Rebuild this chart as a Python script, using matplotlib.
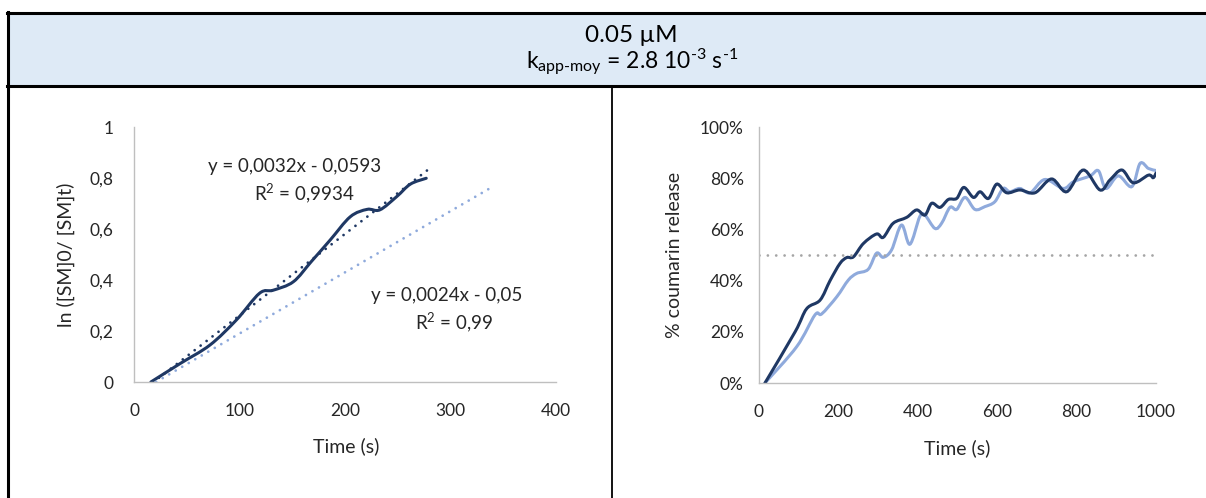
import matplotlib.pyplot as plt
from matplotlib.path import Path
from matplotlib.patches import PathPatch, Rectangle
from matplotlib.lines import Line2D
import numpy as np

plt.rcParams['font.family'] = ['Lato', 'DejaVu Sans']
plt.rcParams['mathtext.fontset'] = 'custom'
plt.rcParams['mathtext.rm'] = 'Lato'
plt.rcParams['mathtext.it'] = 'Lato:italic'

# left chart: ln([SM]0/[SM]t) vs time
ln_time = [16, 44, 72, 97, 119, 132, 151, 168, 186, 205, 221, 233, 249, 262, 277]
ln_value = [0.0, 0.073, 0.145, 0.243, 0.348, 0.36, 0.393, 0.472, 0.557, 0.648, 0.677,
            0.675, 0.727, 0.776, 0.799]
fit_dark = (0.0032, -0.0593)
fit_dark_x = [18, 278]
fit_light = (0.0024, -0.05)
fit_light_x = [21, 338]

# right chart: % coumarin release vs time
rel_time_dark = [15, 91, 120, 154, 179, 204, 221, 238, 263, 296, 313, 338, 372, 397, 418,
                 435, 456, 477, 498, 516, 540, 557, 578, 599, 624, 657, 695, 737, 775,
                 817, 859, 884, 914, 943, 981, 993, 1000]
rel_dark = [0, 20, 29, 32.4, 40, 46.7, 49, 49.3, 54.5, 58.2, 56.9, 62.4, 64.7, 67.6, 65.6,
            70.2, 68.6, 71.7, 72.1, 76.4, 72.5, 74.7, 72.1, 77.7, 74.3, 75.4, 74.3, 79.7,
            74.7, 83.2, 75.4, 79.3, 83.2, 78.2, 81.2, 80.2, 82]
rel_time_light = [15, 95, 141, 158, 196, 225, 246, 275, 296, 313, 334, 359, 380, 405, 418,
                  443, 460, 481, 498, 519, 544, 569, 594, 615, 632, 657, 683, 720, 766,
                  792, 834, 855, 874, 905, 939, 960, 981, 1000]
rel_light = [0, 14.2, 26.6, 27, 33.7, 40.2, 42.8, 44.4, 50.7, 49.1, 52, 61.7, 54.2, 65,
             65.6, 60.4, 62.4, 68.6, 67.8, 72.5, 67.8, 68.9, 70.8, 76, 74.7, 76, 74.3,
             79.5, 76, 78.6, 80.9, 82.9, 76, 80.9, 76.7, 85.8, 83.8, 83]
half_line = 50

dark = '#1F3864'
light = '#8FAADC'
txt = '#262626'
axis_col = '#BFBFBF'


def smooth_path(xs, ys):
    # Excel-style smoothed line (cubic Bezier through every point)
    pts = np.column_stack([xs, ys]).astype(float)
    n = len(pts)
    verts = [pts[0]]
    codes = [Path.MOVETO]
    for i in range(n - 1):
        p0 = pts[i - 1] if i > 0 else pts[i]
        p1 = pts[i]
        p2 = pts[i + 1]
        p3 = pts[i + 2] if i + 2 < n else pts[i + 1]
        verts += [p1 + (p2 - p0) / 6, p2 - (p3 - p1) / 6, p2]
        codes += [Path.CURVE4] * 3
    return Path(verts, codes)


def style_axes(ax):
    for s in ['top', 'right']:
        ax.spines[s].set_visible(False)
    for s in ['left', 'bottom']:
        ax.spines[s].set_color(axis_col)
        ax.spines[s].set_linewidth(1.0)
    ax.tick_params(length=0, labelsize=12.5, labelcolor=txt)


W, H = 1206, 498
fig = plt.figure(figsize=(W / 100, H / 100), dpi=100)

# table header
fig.add_artist(Rectangle((8 / W, 1 - 86 / H), 1, 73 / H, transform=fig.transFigure,
                         facecolor='#DEEAF6', edgecolor='none'))
for xs, ys, lw in [([7 / W, 1], [1 - 13 / H, 1 - 13 / H], 2.2),
                   ([7 / W, 1], [1 - 86 / H, 1 - 86 / H], 2.2),
                   ([8 / W, 8 / W], [1 - 12 / H, 0], 2.2),
                   ([612 / W, 612 / W], [1 - 86 / H, 0], 1.3)]:
    fig.add_artist(Line2D(xs, ys, transform=fig.transFigure, color='black', lw=lw))

fig.text(631 / W, 1 - 42 / H, '0.05 µM', ha='center', va='baseline', size=17.5, color='black')
fig.text(632 / W, 1 - 69 / H,
         r'k$_{\mathrm{app\text{-}moy}}$ = 2.8 10$^{\text{-}\mathrm{3}}$ s$^{\text{-}\mathrm{1}}$',
         ha='center', va='baseline', size=16.5, color='black')

# left chart
ax1 = fig.add_axes([134 / W, 1 - 382 / H, 422 / W, 255 / H])
style_axes(ax1)
ax1.set_xlim(0, 400)
ax1.set_ylim(0, 1)
ax1.set_xticks([0, 100, 200, 300, 400])
ax1.set_yticks([0, 0.2, 0.4, 0.6, 0.8, 1])
ax1.set_yticklabels(['0', '0,2', '0,4', '0,6', '0,8', '1'])
ax1.tick_params(axis='y', pad=15)
ax1.tick_params(axis='x', pad=15)
for fx, fit, col in [(fit_light_x, fit_light, light), (fit_dark_x, fit_dark, dark)]:
    fx = np.array(fx, dtype=float)
    ax1.plot(fx, fit[0] * fx + fit[1], color=col, lw=2.0,
             linestyle=(0, (0.01, 2.7)), dash_capstyle='round')
ax1.add_patch(PathPatch(smooth_path(ln_time, ln_value), fill=False, edgecolor=dark,
                        lw=2.2, capstyle='round'))
ax1.text(152.6, 0.847, 'y = 0,0032x - 0,0593', ha='center', va='center', size=13.5, color=txt)
ax1.text(161, 0.741, r'R$^{\mathrm{2}}$ = 0,9934', ha='center', va='center', size=13.5, color=txt)
ax1.text(296.7, 0.341, 'y = 0,0024x - 0,05', ha='center', va='center', size=13.5, color=txt)
ax1.text(303, 0.235, r'R$^{\mathrm{2}}$ = 0,99', ha='center', va='center', size=13.5, color=txt)
ax1.set_xlabel('Time (s)', size=14, color=txt)
ax1.xaxis.set_label_coords(0.502, -0.251)
ax1.xaxis.label.set_va('center')
ax1.set_ylabel('ln ([SM]0/ [SM]t)', size=14, color=txt)
ax1.yaxis.set_label_coords(-0.161, 0.5)
ax1.yaxis.label.set_va('center')

# right chart
ax2 = fig.add_axes([759 / W, 1 - 383 / H, 397 / W, 256 / H])
style_axes(ax2)
ax2.set_xlim(0, 1000)
ax2.set_ylim(0, 100)
ax2.set_xticks([0, 200, 400, 600, 800, 1000])
ax2.set_yticks([0, 20, 40, 60, 80, 100])
ax2.set_yticklabels(['0%', '20%', '40%', '60%', '80%', '100%'])
ax2.tick_params(axis='y', pad=11)
ax2.tick_params(axis='x', pad=15)
ax2.plot([0, 1000], [half_line, half_line], color='#A5A5A5', lw=2.0,
         linestyle=(0, (0.01, 3)), dash_capstyle='round')
ax2.add_patch(PathPatch(smooth_path(rel_time_light, rel_light), fill=False, edgecolor=light,
                        lw=2.2, capstyle='round'))
ax2.add_patch(PathPatch(smooth_path(rel_time_dark, rel_dark), fill=False, edgecolor=dark,
                        lw=2.2, capstyle='round'))
ax2.set_xlabel('Time (s)', size=14, color=txt)
ax2.xaxis.set_label_coords(0.499, -0.254)
ax2.xaxis.label.set_va('center')
ax2.set_ylabel('% coumarin release', size=14, color=txt)
ax2.yaxis.set_label_coords(-0.214, 0.5)
ax2.yaxis.label.set_va('center')

fig.savefig('out.png', dpi=100)
